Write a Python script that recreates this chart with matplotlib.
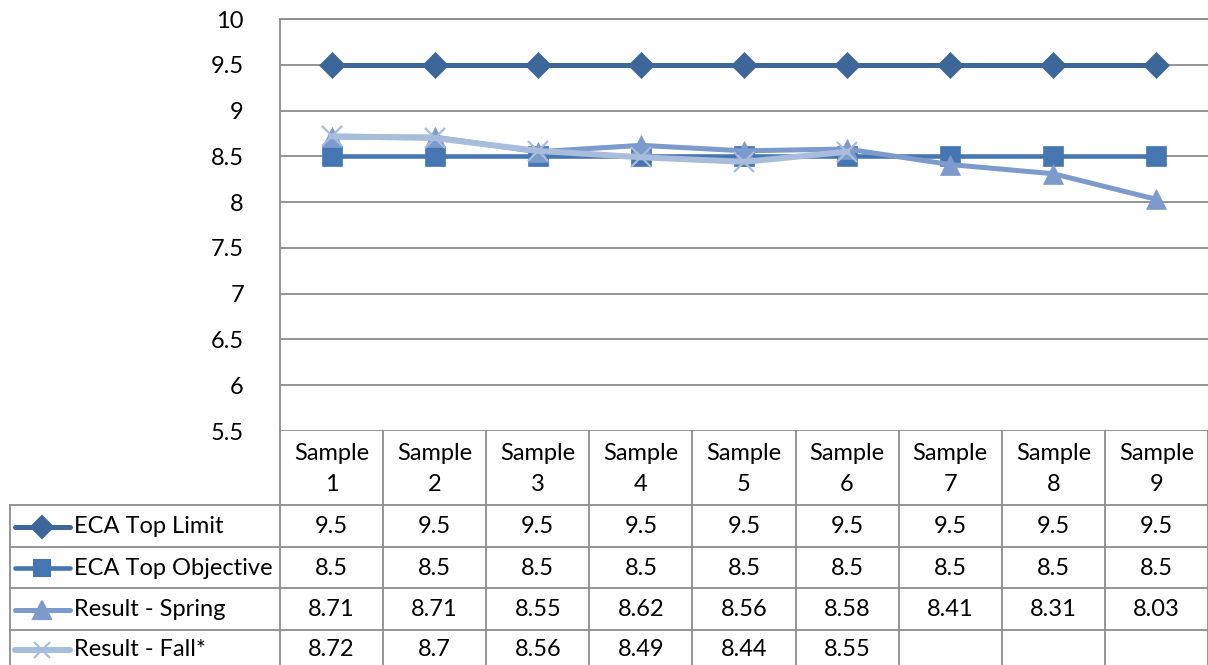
import numpy as np
import matplotlib.pyplot as plt

# donnees
samples = ["Sample\n1", "Sample\n2", "Sample\n3", "Sample\n4", "Sample\n5",
           "Sample\n6", "Sample\n7", "Sample\n8", "Sample\n9"]
top_limit = [9.5, 9.5, 9.5, 9.5, 9.5, 9.5, 9.5, 9.5, 9.5]
top_objective = [8.5, 8.5, 8.5, 8.5, 8.5, 8.5, 8.5, 8.5, 8.5]
spring = [8.71, 8.71, 8.55, 8.62, 8.56, 8.58, 8.41, 8.31, 8.03]
fall = [8.72, 8.7, 8.56, 8.49, 8.44, 8.55, None, None, None]

series_names = ["ECA Top Limit", "ECA Top Objective", "Result - Spring", "Result - Fall*"]
series_vals = [top_limit, top_objective, spring, fall]
colors = ["#3d6699", "#4676b2", "#7c9acb", "#a8bcdc"]
markers = ["D", "s", "^", "x"]
msizes = [13.5, 14, 15, 14]
lwidths = [3.6, 3.3, 3.6, 4.3]

plt.rcParams['font.family'] = ['Lato', 'DejaVu Sans']
fs = 17
W, H = 1208, 665
fig = plt.figure(figsize=(W / 100, H / 100), dpi=100)

x0, x1 = 280, 1208
y_top, y_bot = 19, 431
ax = fig.add_axes([x0 / W, 1 - y_bot / H, (x1 - x0) / W, (y_bot - y_top) / H])
n = len(samples)
xs = np.arange(n)
for name, vals, c, m, ms, lw in zip(series_names, series_vals, colors, markers, msizes, lwidths):
    y = np.array([np.nan if v is None else v for v in vals])
    if m == "x":
        ax.plot(xs, y, color=c, lw=lw, marker=m, ms=ms, mew=1.6, clip_on=False, zorder=3)
    else:
        ax.plot(xs, y, color=c, lw=lw, marker=m, ms=ms, mec=c, mew=0.5, clip_on=False, zorder=3)

ax.set_xlim(-0.5, n - 0.5)
ax.set_ylim(5.5, 10)
ax.set_yticks(np.arange(5.5, 10.01, 0.5))
ax.set_yticklabels(["5.5", "6", "6.5", "7", "7.5", "8", "8.5", "9", "9.5", "10"], fontsize=fs)
ax.tick_params(axis='y', length=0, pad=26)
ax.set_xticks([])
ax.grid(axis='y', color='#8c8c8c', lw=1.3)
for s in ["right", "bottom"]:
    ax.spines[s].set_visible(False)
ax.spines["left"].set_color('#8c8c8c')
ax.spines["left"].set_linewidth(1.3)
ax.spines["top"].set_color('#8c8c8c')
ax.spines["top"].set_linewidth(1.3)

# tableau de donnees sous le graphique
cw = (x1 - x0) / n
left = -0.5 - (x0 - 10) / cw
tax = fig.add_axes([10 / W, 0, (x1 - 10) / W, (H - y_bot) / H])
tax.set_xlim(left, n - 0.5)
tax.set_ylim(H, y_bot)
tax.axis('off')
gc = '#8c8c8c'
row_edges = [505, 546.5, 588, 630, 672]
for b in np.arange(n + 1) - 0.5:
    tax.plot([b, b], [y_bot, H], color=gc, lw=1.3, clip_on=False)
tax.plot([left, left], [row_edges[0], H], color=gc, lw=1.3, clip_on=False)
for yy in row_edges[:-1]:
    tax.plot([left, n - 0.5], [yy, yy], color=gc, lw=1.3, clip_on=False)

for i, s in enumerate(samples):
    tax.text(i, (y_bot + row_edges[0]) / 2 + 1, s, ha='center', va='center',
             fontsize=fs, linespacing=1.55)

px = 1 / cw  # un pixel en unites de donnees
for r, (name, vals, c, m, ms, lw) in enumerate(zip(series_names, series_vals, colors,
                                                   markers, msizes, lwidths)):
    yc = (row_edges[r] + row_edges[r + 1]) / 2 + 1
    if r == 3:
        yc = (row_edges[r] + H) / 2 + 2
    lx = [left + 5 * px, left + 60 * px]
    tax.plot(lx, [yc, yc], color=c, lw=lw, solid_capstyle='round', clip_on=False)
    tax.plot([np.mean(lx)], [yc], color=c, marker=m, ms=ms * 0.85, mec=c, mew=1.5,
             clip_on=False)
    tax.text(left + 64 * px, yc, name, ha='left', va='center', fontsize=fs)
    for i, v in enumerate(vals):
        if v is not None:
            tax.text(i, yc, f"{v:g}", ha='center', va='center', fontsize=fs)

fig.savefig("out.png", dpi=100)
